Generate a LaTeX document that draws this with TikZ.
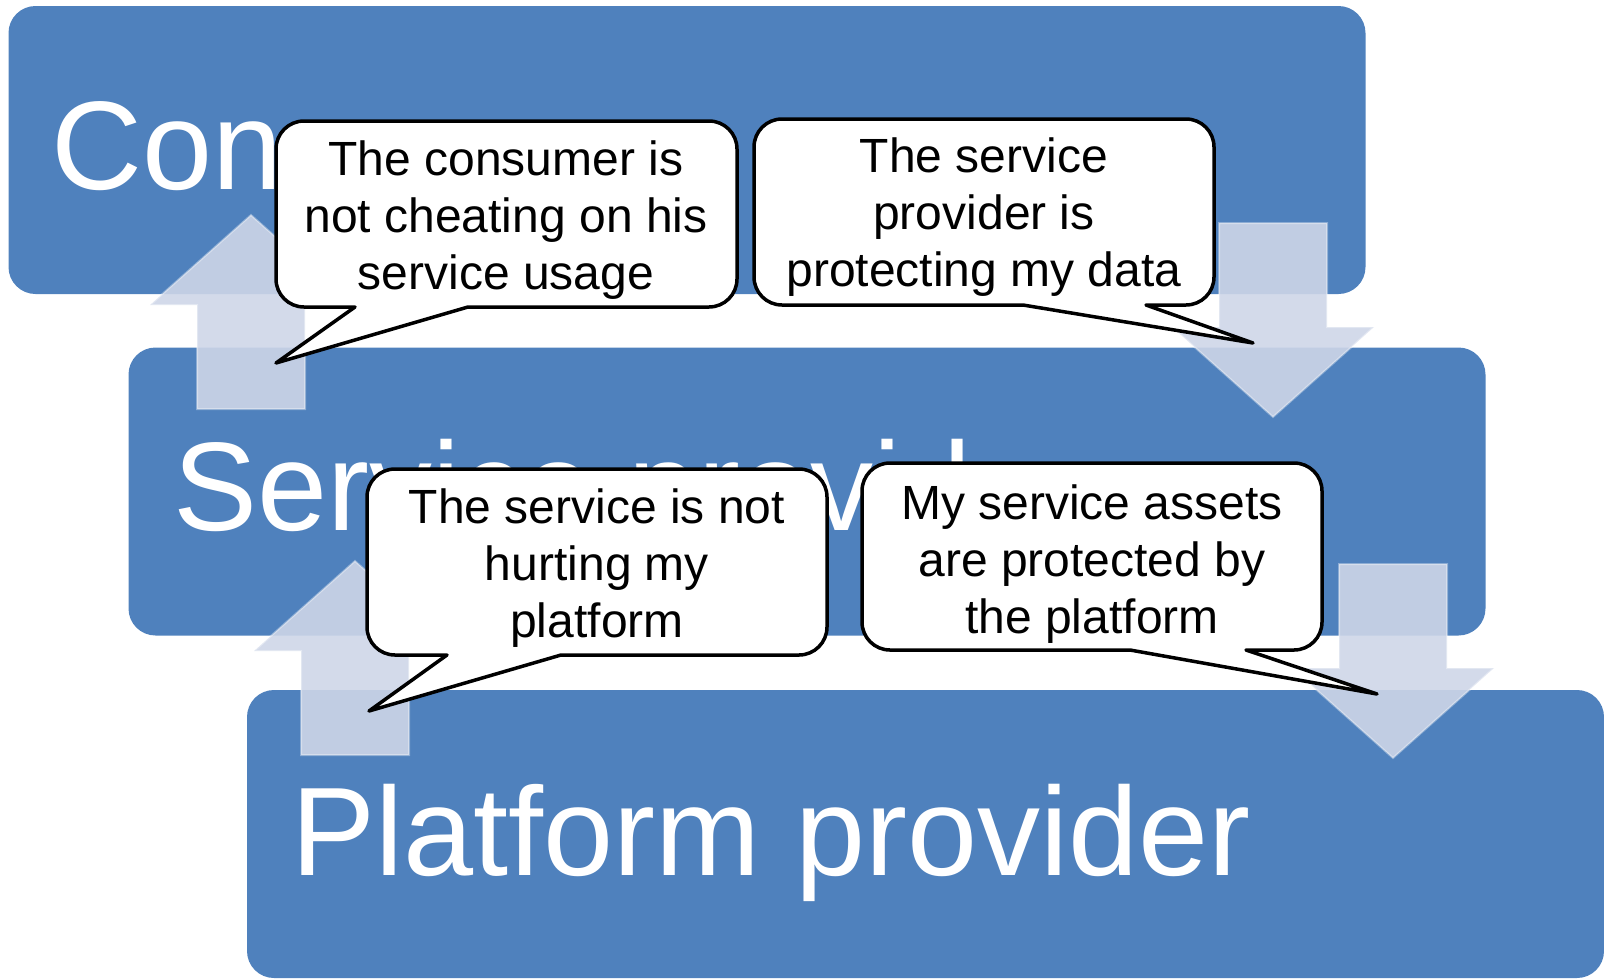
\documentclass[tikz,border=0pt]{standalone}
\usepackage{fontspec}
\setmainfont{Liberation Sans}
\definecolor{boxblue}{RGB}{79,129,189}
\definecolor{arrowfill}{RGB}{206,214,232}
\begin{document}
\begin{tikzpicture}
    [
    x=1pt, y=-1pt,
    tier/.style={rectangle,fill=boxblue,rounded corners=27pt,minimum width=1357pt,minimum height=288pt,inner sep=0pt},
    tiername/.style={anchor=base west,text=white,inner sep=0pt,font=\fontsize{126}{132}\selectfont},
    bigarrow/.style={fill=arrowfill,fill opacity=0.9,draw=white,draw opacity=0.35,line width=2pt},
    bubble/.style={fill=white,draw=black,line width=3.5pt,line join=round},
    saying/.style={align=center,inner sep=0pt,font=\fontsize{48}{57}\selectfont}
    ]
    \useasboundingbox (0,0) rectangle (1604,978);
    % the three tiers
    \node (consumer) at (687,150) [tier] {};
    \node (service) at (807,491.5) [tier] {};
    \node (platform) at (925.5,834) [tier] {};
    \node (consumername) at (51,189) [tiername] {Consumer};
    \node (servicename) at (173,530) [tiername] {Service provider};
    \node (platformname) at (291,875) [tiername] {Platform provider};
    % block arrows
    \draw [bigarrow] (251,215) -- ++(101,90) -- ++(-47,0) -- ++(0,104) -- ++(-108,0) -- ++(0,-104) -- ++(-47,0) -- cycle;
    \draw [bigarrow] (355,561) -- ++(101,90) -- ++(-47,0) -- ++(0,104) -- ++(-108,0) -- ++(0,-104) -- ++(-47,0) -- cycle;
    \draw [bigarrow] (1273,417) -- ++(101,-90) -- ++(-47,0) -- ++(0,-104) -- ++(-108,0) -- ++(0,104) -- ++(-47,0) -- cycle;
    \draw [bigarrow] (1393,758) -- ++(101,-90) -- ++(-47,0) -- ++(0,-104) -- ++(-108,0) -- ++(0,104) -- ++(-47,0) -- cycle;
    % speech bubbles
    \coordinate (tip1) at (276,363);
    \coordinate (tip2) at (1253,343);
    \coordinate (tip3) at (369,711);
    \coordinate (tip4) at (1377,694);
    \draw [bubble] (468,307) [rounded corners=28pt] -- (737,307) -- (737,121) -- (276,121) -- (276,307) [sharp corners] -- (355,307) -- (tip1) -- cycle;
    \draw [bubble] (1023,305) [rounded corners=28pt] -- (754,305) -- (754,119) -- (1214,119) -- (1214,305) [sharp corners] -- (1146,305) -- (tip2) -- cycle;
    \draw [bubble] (561,655) [rounded corners=28pt] -- (827,655) -- (827,469) -- (367,469) -- (367,655) [sharp corners] -- (447,655) -- (tip3) -- cycle;
    \draw [bubble] (1130,650) [rounded corners=28pt] -- (862,650) -- (862,463) -- (1322,463) -- (1322,650) [sharp corners] -- (1246,650) -- (tip4) -- cycle;
    \node (say1) at (506,220) [saying] {The consumer is\\not cheating on his\\service usage};
    \node (say2) at (984,217) [saying] {The service\\provider is\\protecting my data};
    \node (say3) at (597,568) [saying] {The service is not\\hurting my\\platform};
    \node (say4) at (1092,564) [saying] {My service assets\\are protected by\\the platform};
\end{tikzpicture}
\end{document}
